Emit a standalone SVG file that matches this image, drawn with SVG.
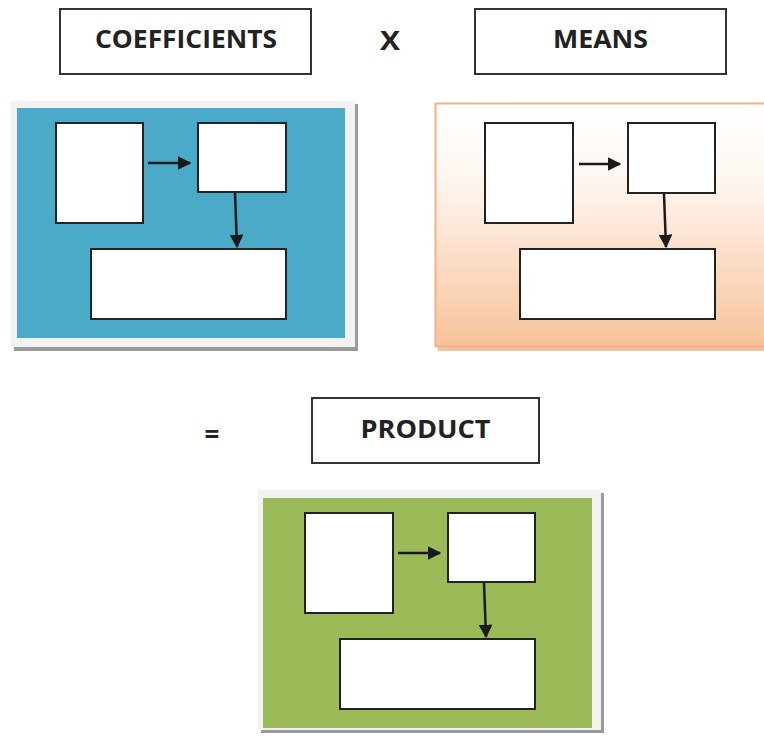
<svg xmlns="http://www.w3.org/2000/svg" width="764" height="738" viewBox="0 0 764 738">
<defs>
<linearGradient id="peach" x1="0" y1="0" x2="0" y2="1">
<stop offset="0" stop-color="#ffffff"/>
<stop offset="0.3" stop-color="#fff7f1"/>
<stop offset="1" stop-color="#f8c29a"/>
</linearGradient>
<marker id="ah" viewBox="0 0 10 10" refX="9" refY="5" markerWidth="5.5" markerHeight="5.5" orient="auto" markerUnits="strokeWidth">
<path d="M0,0 L10,5 L0,10 z" fill="#1a1a1a"/>
</marker>
</defs>
<style>
.label{fill:#fff;stroke:#333;stroke-width:2}
.box{fill:#fff;stroke:#222;stroke-width:2}
.txt{font-family:"Open Sans","Liberation Sans",sans-serif;font-weight:bold;font-size:25px;fill:#222;text-anchor:middle}
.op{font-family:"Open Sans","Liberation Sans",sans-serif;font-weight:bold;font-size:26px;fill:#222;text-anchor:middle}
.conn{stroke:#1a1a1a;stroke-width:2.5;fill:none;marker-end:url(#ah)}
.shadow{fill:#9a9a9a}
.frame{fill:#f2f2f2}
</style>
<rect width="764" height="738" fill="#fff"/>

<g id="coefficients-label">
<rect class="label" x="60" y="9" width="251" height="65"/>
<text class="txt" x="186" y="48" textLength="182" lengthAdjust="spacingAndGlyphs">COEFFICIENTS</text>
</g>
<g id="times"><text class="op" x="390" y="50" textLength="20" lengthAdjust="spacingAndGlyphs">X</text></g>
<g id="means-label">
<rect class="label" x="475" y="9" width="251" height="65"/>
<text class="txt" x="600.5" y="48" textLength="95" lengthAdjust="spacingAndGlyphs">MEANS</text>
</g>

<g id="blue-panel">
<rect class="shadow" x="14" y="104" width="344" height="247"/>
<rect class="frame" x="11" y="101" width="344" height="246"/>
<rect x="17" y="108" width="328" height="230" fill="#4aaac8"/>
<rect class="box" x="56" y="123" width="87" height="100"/>
<rect class="box" x="198" y="123" width="88" height="69"/>
<rect class="box" x="91" y="249" width="195" height="70"/>
</g>

<g id="peach-panel">
<rect x="438" y="106" width="330" height="245" fill="#e39a68" opacity="0.6"/>
<rect x="435.5" y="103.5" width="330" height="243" fill="url(#peach)" stroke="#f4b183" stroke-width="2"/>
<rect class="box" x="485" y="123" width="88" height="100"/>
<rect class="box" x="628" y="123" width="87" height="70"/>
<rect class="box" x="520" y="249" width="195" height="70"/>
</g>

<g id="equals"><text class="op" x="212" y="444">=</text></g>
<g id="product-label">
<rect class="label" x="312" y="398" width="227" height="65"/>
<text class="txt" x="425.5" y="438" textLength="130" lengthAdjust="spacingAndGlyphs">PRODUCT</text>
</g>

<g id="green-panel">
<rect class="shadow" x="261" y="493" width="343" height="240"/>
<rect class="frame" x="258" y="490" width="343" height="240"/>
<rect x="263" y="498" width="329" height="230" fill="#9bbb59"/>
<rect class="box" x="305" y="513" width="88" height="100"/>
<rect class="box" x="448" y="513" width="87" height="69"/>
<rect class="box" x="340" y="639" width="195" height="70"/>
</g>

<g id="connectors">
<line class="conn" x1="148" y1="163" x2="190" y2="163"/>
<line class="conn" x1="235" y1="193" x2="237" y2="247"/>
<line class="conn" x1="579" y1="164" x2="620" y2="164"/>
<line class="conn" x1="664" y1="194" x2="666" y2="247"/>
<line class="conn" x1="398" y1="553" x2="440" y2="553"/>
<line class="conn" x1="484" y1="583" x2="486" y2="637"/>
</g>
</svg>
